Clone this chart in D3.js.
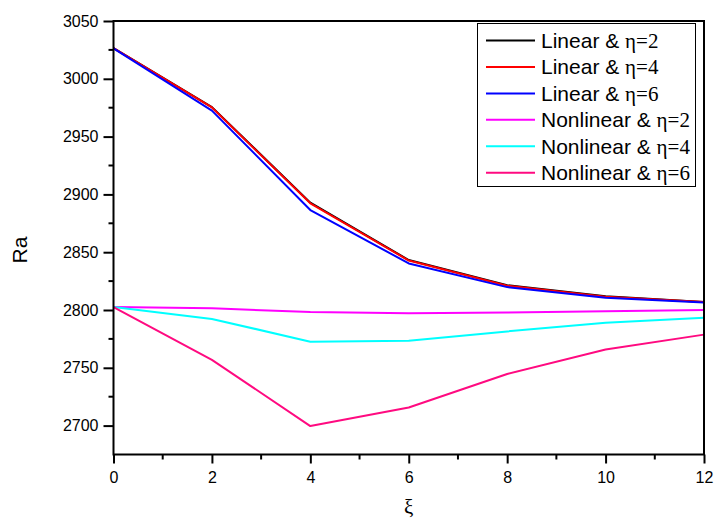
<!DOCTYPE html>
<html>
<head>
<meta charset="utf-8">
<script src="https://cdn.jsdelivr.net/npm/d3@7"></script>
<style>
  body { margin: 0; background: #fff; }
  svg { display: block; }
  text { font-family: Arial, "Liberation Sans", sans-serif; }
</style>
</head>
<body>
<svg id="chart" width="716" height="524"></svg>
<script>
// ξ positions along the x axis
const xi = [0, 2, 4, 6, 8, 10, 12];

// Critical Rayleigh number for each case
const linearEta2    = [3026.5, 2975.5, 2892.8, 2843.2, 2821.4, 2811.8, 2807.0];
const linearEta4    = [3026.5, 2975.2, 2892.3, 2842.8, 2821.0, 2811.5, 2806.9];
const linearEta6    = [3026.3, 2972.5, 2886.5, 2840.3, 2819.8, 2810.6, 2806.5];
const nonlinearEta2 = [2802.5, 2801.5, 2798.2, 2797.2, 2797.8, 2798.9, 2800.0];
const nonlinearEta4 = [2802.5, 2792.3, 2772.6, 2773.4, 2781.5, 2788.9, 2793.2];
const nonlinearEta6 = [2802.5, 2756.9, 2699.6, 2715.7, 2744.6, 2765.8, 2778.7];

const seriesNames  = ["Linear", "Linear", "Linear", "Nonlinear", "Nonlinear", "Nonlinear"];
const seriesEta    = ["2", "4", "6", "2", "4", "6"];
const seriesColors = ["#000000", "#ff0000", "#0000ff", "#ff00ff", "#00ffff", "#ff0a80"];
const seriesValues = [linearEta2, linearEta4, linearEta6, nonlinearEta2, nonlinearEta4, nonlinearEta6];

const xTicks = [0, 2, 4, 6, 8, 10, 12];
const yTicks = [2700, 2750, 2800, 2850, 2900, 2950, 3000, 3050];

const svg = d3.select("#chart");
const plotL = 113.5, plotR = 704, plotT = 21, plotB = 454.5;

const x = d3.scaleLinear().domain([0, 12]).range([plotL, plotR]);
const y = d3.scaleLinear().domain([2675, 3050]).range([plotB, plotT]);

// minor ticks
const minorX = d3.range(1, 12, 2);
const minorY = d3.range(2725, 3050, 50);
svg.append("g").selectAll("line").data(minorX).join("line")
  .attr("x1", d => x(d)).attr("x2", d => x(d))
  .attr("y1", plotB).attr("y2", plotB + 5)
  .attr("stroke", "#000").attr("stroke-width", 2);
svg.append("g").selectAll("line").data(minorY).join("line")
  .attr("y1", d => y(d)).attr("y2", d => y(d))
  .attr("x1", plotL).attr("x2", plotL - 5)
  .attr("stroke", "#000").attr("stroke-width", 2);

// axes
const xAxis = svg.append("g").attr("transform", `translate(0,${plotB})`)
  .call(d3.axisBottom(x).tickValues(xTicks).tickSize(9).tickPadding(8).tickFormat(d3.format("d")));
const yAxis = svg.append("g").attr("transform", `translate(${plotL},0)`)
  .call(d3.axisLeft(y).tickValues(yTicks).tickSize(10).tickPadding(5).tickFormat(d3.format("d")));
[xAxis, yAxis].forEach(g => {
  g.select(".domain").remove();
  g.selectAll(".tick line").attr("stroke", "#000").attr("stroke-width", 2);
  g.selectAll(".tick text").attr("fill", "#000").style("font-size", "16px")
    .style("font-family", "Arial, 'Liberation Sans', sans-serif");
});

// data lines
const line = d3.line().x((d, i) => x(xi[i])).y(d => y(d));
svg.append("g").selectAll("path").data(seriesValues).join("path")
  .attr("d", d => line(d))
  .attr("fill", "none")
  .attr("stroke", (d, i) => seriesColors[i])
  .attr("stroke-width", 2)
  .attr("stroke-linejoin", "round");

// frame
svg.append("rect")
  .attr("x", plotL).attr("y", plotT)
  .attr("width", plotR - plotL).attr("height", plotB - plotT)
  .attr("fill", "none").attr("stroke", "#000").attr("stroke-width", 2);

// axis titles
svg.append("text")
  .attr("transform", "translate(26.5,250) rotate(-90)")
  .attr("text-anchor", "middle")
  .style("font-size", "21px")
  .text("Ra");
svg.append("text")
  .attr("x", x(6)).attr("y", 514)
  .attr("text-anchor", "middle")
  .style("font-family", "'Times New Roman', 'Liberation Serif', serif")
  .style("font-size", "21px")
  .text("ξ");

// legend
const legend = svg.append("g");
legend.append("rect")
  .attr("x", 477.5).attr("y", 23.5).attr("width", 218).attr("height", 163)
  .attr("fill", "#fff").attr("stroke", "#000").attr("stroke-width", 1);
const rows = legend.selectAll("g.row").data(seriesNames).join("g")
  .attr("class", "row")
  .attr("transform", (d, i) => `translate(0,${40.5 + i * 26.45})`);
rows.append("line")
  .attr("x1", 486).attr("x2", 535).attr("y1", 0).attr("y2", 0)
  .attr("stroke", (d, i) => seriesColors[i]).attr("stroke-width", 2);
const labels = rows.append("text")
  .attr("x", 541).attr("y", 7.5)
  .style("font-size", "21px");
labels.append("tspan").text(d => d + " & ");
labels.append("tspan")
  .style("font-family", "'Times New Roman', 'Liberation Serif', serif")
  .text((d, i) => "η=" + seriesEta[i]);
</script>
</body>
</html>
